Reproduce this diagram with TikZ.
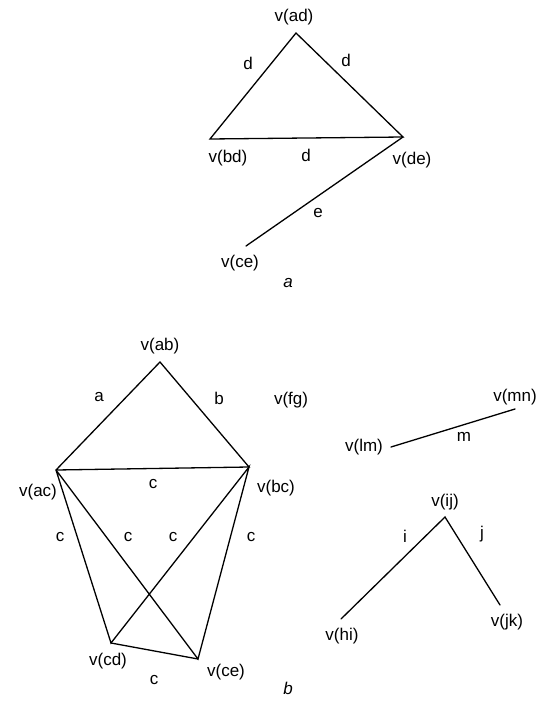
\documentclass[tikz,border=0pt]{standalone}
\usepackage{fontspec}
\setmainfont{Liberation Sans}
\begin{document}
\begin{tikzpicture}[x=1pt,y=-1pt,
  edge/.style={line width=1.3pt, line cap=round},
  lbl/.style={font=\fontsize{17}{20}\selectfont, inner sep=0pt},
  figcap/.style={font=\fontsize{17}{20}\selectfont\itshape, inner sep=0pt}]
\useasboundingbox (0,0) rectangle (539,709);
% graph a
\coordinate (ad) at (296,33);
\coordinate (bd) at (210,139);
\coordinate (de) at (403,137);
\coordinate (ce) at (246,246);
\draw[edge] (ad) -- (bd) -- (de) -- cycle;
\draw[edge] (de) -- (ce);
\node[lbl] (lad) at (294,17) {v(ad)};
\node[lbl] (lbd) at (228,158) {v(bd)};
\node[lbl] (lde) at (412,160) {v(de)};
\node[lbl] (lce) at (240,263) {v(ce)};
\node[lbl] (d1) at (248,63) {d};
\node[lbl] (d2) at (346,60) {d};
\node[lbl] (d3) at (306,155) {d};
\node[lbl] (e1) at (318,213) {e};
\node[figcap] (capa) at (288,283) {a};
% graph b
\coordinate (ab) at (160,362);
\coordinate (ac) at (56,470);
\coordinate (bc) at (249,467);
\coordinate (cd) at (111,643);
\coordinate (ce2) at (198,659);
\draw[edge] (ac) -- (ab) -- (bc) -- (ac);
\draw[edge] (ac) -- (cd) -- (bc) -- (ce2) -- (ac);
\draw[edge] (cd) -- (ce2);
\node[lbl] (lab) at (160,346) {v(ab)};
\node[lbl] (lac) at (38,492) {v(ac)};
\node[lbl] (lbc) at (276,488) {v(bc)};
\node[lbl] (lcd) at (108,661) {v(cd)};
\node[lbl] (lce2) at (226,672) {v(ce)};
\node[lbl] (la) at (99,397) {a};
\node[lbl] (lb) at (219,398) {b};
\node[lbl] (c1) at (153,484) {c};
\node[lbl] (c2) at (60,537) {c};
\node[lbl] (c3) at (128,537) {c};
\node[lbl] (c4) at (173,537) {c};
\node[lbl] (c5) at (251,537) {c};
\node[lbl] (c6) at (154,680) {c};
\node[figcap] (capb) at (288,688) {b};
% others
\node[lbl] (lfg) at (291,400) {v(fg)};
\coordinate (lm) at (391,447);
\coordinate (mn) at (515,409);
\draw[edge] (lm) -- (mn);
\node[lbl] (llm) at (364,447) {v(lm)};
\node[lbl] (lmn) at (515,397) {v(mn)};
\node[lbl] (m1) at (464,437) {m};
\coordinate (ij) at (445,517);
\coordinate (hi) at (341,619);
\coordinate (jk) at (500,605);
\draw[edge] (hi) -- (ij) -- (jk);
\node[lbl] (lij) at (445,502) {v(ij)};
\node[lbl] (lhi) at (342,636) {v(hi)};
\node[lbl] (ljk) at (507,622) {v(jk)};
\node[lbl] (i1) at (405,536) {i};
\node[lbl] (j1) at (482,534) {j};
\end{tikzpicture}
\end{document}
